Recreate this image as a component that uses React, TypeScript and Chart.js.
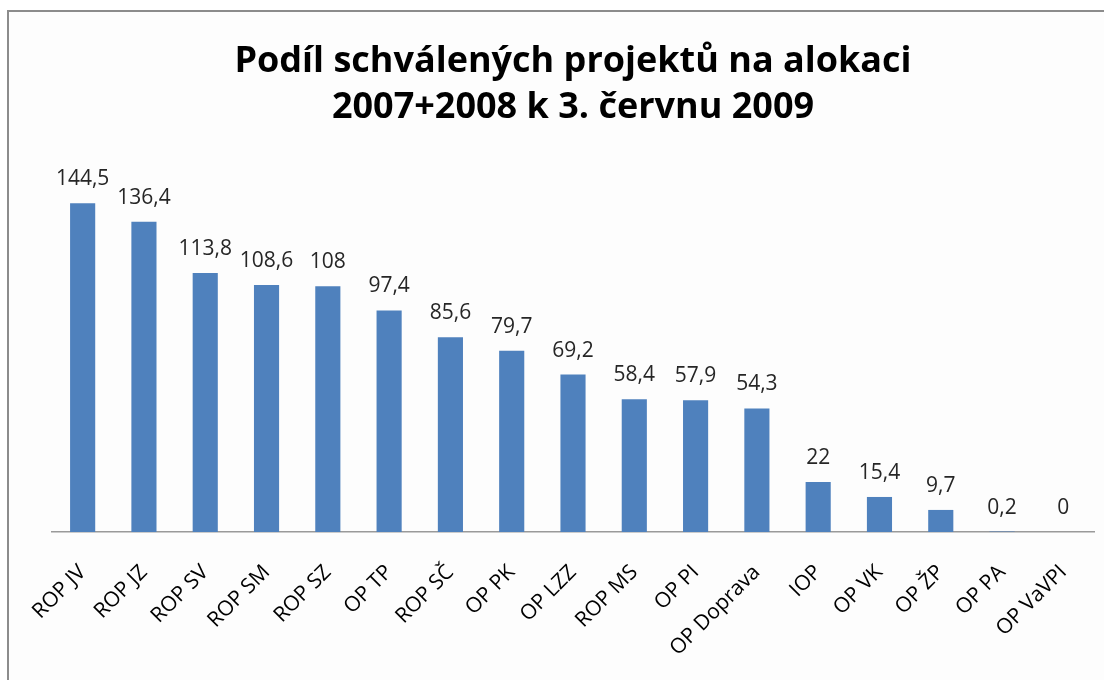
import { useEffect, useRef } from "react";
import { Chart, registerables } from "chart.js";

Chart.register(...registerables);

const categories = [
  "ROP JV", "ROP JZ", "ROP SV", "ROP SM", "ROP SZ", "OP TP", "ROP SČ", "OP PK",
  "OP LZZ", "ROP MS", "OP PI", "OP Doprava", "IOP", "OP VK", "OP ŽP", "OP PA", "OP VaVPI",
];
const values = [144.5, 136.4, 113.8, 108.6, 108, 97.4, 85.6, 79.7, 69.2, 58.4, 57.9, 54.3, 22, 15.4, 9.7, 0.2, 0];
const valueLabels = values.map((v) => String(v).replace(".", ","));
const titleLines = ["Podíl schválených projektů na alokaci", "2007+2008 k 3. červnu 2009"];
const yMin = 0;
const yMax = 160;

const valueLabelPlugin = {
  id: "valueLabels",
  afterDatasetsDraw(chart: any) {
    const ctx = chart.ctx;
    const meta = chart.getDatasetMeta(0);
    ctx.save();
    ctx.font = "21px 'Open Sans'";
    ctx.fillStyle = "#262626";
    ctx.textAlign = "center";
    ctx.textBaseline = "middle";
    meta.data.forEach((bar: any, i: number) => {
      ctx.fillText(valueLabels[i], bar.x, bar.y - 24);
    });
    ctx.restore();
  },
};

export default function App() {
  const canvasRef = useRef<HTMLCanvasElement | null>(null);

  useEffect(() => {
    if (!canvasRef.current) return;
    const chart = new Chart(canvasRef.current, {
      type: "bar",
      data: {
        labels: categories,
        datasets: [
          {
            data: values,
            backgroundColor: "#4f81bd",
            barPercentage: 0.41,
            categoryPercentage: 1,
          },
        ],
      },
      options: {
        responsive: false,
        animation: false,
        layout: { padding: { left: 52, right: 10, top: 0, bottom: 0 } },
        plugins: {
          legend: { display: false },
          tooltip: { enabled: false },
          title: {
            display: true,
            text: titleLines,
            color: "#000",
            font: { family: "'Open Sans'", size: 36, weight: "bold", lineHeight: 46 / 36 },
            padding: { top: 39, bottom: 37 },
          },
        },
        scales: {
          x: {
            grid: { display: false },
            border: { display: true, color: "#9a9a9a", width: 1.5 },
            ticks: {
              minRotation: 45,
              maxRotation: 45,
              autoSkip: false,
              color: "#000",
              font: { family: "'Open Sans'", size: 21 },
              padding: 20,
            },
            afterFit: (s: any) => {
              s.height = 148;
            },
          },
          y: { display: false, min: yMin, max: yMax },
        },
      },
      plugins: [valueLabelPlugin],
    } as any);
    return () => chart.destroy();
  }, []);

  return (
    <div
      style={{
        position: "fixed",
        left: 0,
        top: 0,
        width: 1104,
        height: 680,
        overflow: "hidden",
        background: "#fff",
      }}
    >
      <div
        style={{
          position: "absolute",
          left: 7,
          top: 10,
          width: 1200,
          height: 800,
          border: "2px solid #8c8c8c",
          background: "#fdfdfd",
        }}
      />
      <canvas
        ref={canvasRef}
        width={1104}
        height={680}
        style={{ position: "absolute", left: 0, top: 0, width: 1104, height: 680 }}
      />
    </div>
  );
}
